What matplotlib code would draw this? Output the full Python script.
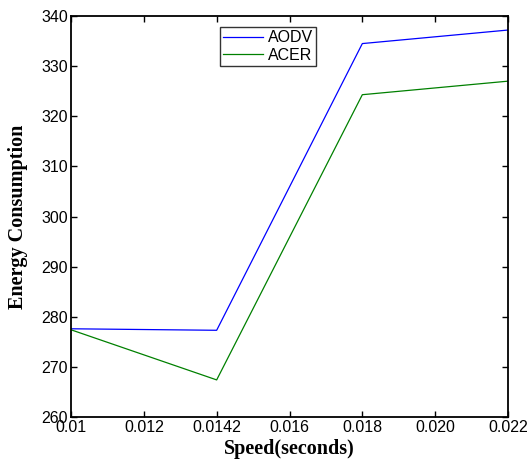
import matplotlib

matplotlib.use("Agg")
import matplotlib.pyplot as plt

speed = [0.010, 0.014, 0.018, 0.022]
aodv = [277.6, 277.3, 334.5, 337.2]
acer = [277.4, 267.4, 324.3, 327.0]

x_ticks = [0.010, 0.012, 0.014, 0.016, 0.018, 0.020, 0.022]
x_tick_labels = ["0.01", "0.012", "0.0142", "0.016", "0.018", "0.020", "0.022"]
y_ticks = [260, 270, 280, 290, 300, 310, 320, 330, 340]

fig = plt.figure(figsize=(5.29, 4.61), dpi=100, facecolor="white")
ax = fig.add_axes([71 / 529, 44 / 461, 437 / 529, 401 / 461])

ax.plot(speed, aodv, color="#0000ff", linewidth=0.9, label="AODV")
ax.plot(speed, acer, color="#008000", linewidth=0.9, label="ACER")

ax.set_xlim(0.010, 0.022)
ax.set_ylim(260, 340)
ax.set_xticks(x_ticks)
ax.set_xticklabels(x_tick_labels)
ax.set_yticks(y_ticks)

for lbl in ax.get_xticklabels() + ax.get_yticklabels():
    lbl.set_fontfamily("Liberation Sans")
    lbl.set_fontsize(11.5)

ax.tick_params(direction="in", top=True, right=True, length=4, width=1.0)
ax.tick_params(axis="x", pad=2)
ax.tick_params(axis="y", pad=2)
for spine in ax.spines.values():
    spine.set_linewidth(1.3)

label_font = {"family": "Liberation Serif", "weight": "bold", "size": 14.5}
ax.set_xlabel("Speed(seconds)", fontdict=label_font, labelpad=3)
ax.set_ylabel("Energy Consumption", fontdict=label_font, labelpad=10)

leg = ax.legend(
    loc="upper left",
    bbox_to_anchor=(0.341, 0.972),
    prop={"family": "Liberation Sans", "size": 11.5},
    frameon=True,
    fancybox=False,
    edgecolor="black",
    handlelength=2.5,
    handletextpad=0.3,
    borderpad=0.2,
    labelspacing=0.15,
    borderaxespad=0,
)
leg.get_frame().set_linewidth(1.0)

fig.savefig("out.png", dpi=100, facecolor="white")
plt.close(fig)
